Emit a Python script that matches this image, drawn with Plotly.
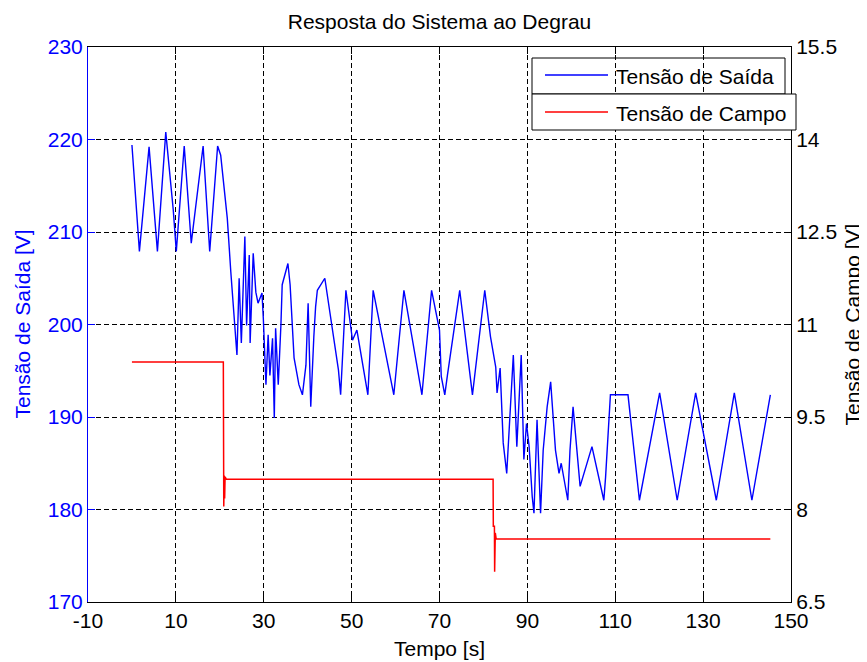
import plotly.graph_objects as go

# ---- data ----
tempo_saida = [0.0, 1.7, 3.9, 5.8, 7.7, 9.4, 10.1, 11.9, 13.5, 16.2, 17.7, 19.5, 20.2, 21.0, 21.7,
               22.5, 23.3, 23.9, 24.4, 24.9, 25.7, 26.1, 26.7, 26.9, 27.6, 28.2, 28.7, 29.6, 29.9,
               30.5, 31.0, 31.4, 32.0, 32.4, 32.7, 33.3, 33.9, 34.2, 35.5, 36.0, 36.9, 38.0, 38.8,
               39.6, 40.1, 40.7, 41.4, 41.8, 42.2, 43.9, 47.0, 47.5, 48.7, 50.2, 51.2, 53.7, 54.9,
               59.6, 61.9, 66.0, 68.2, 70.0, 70.4, 71.2, 71.8, 74.6, 77.5, 80.3, 81.6, 82.8, 83.1,
               83.8, 84.5, 85.3, 86.8, 87.6, 88.6, 89.2, 89.8, 90.4, 91.1, 91.5, 92.2, 93.0, 93.6,
               94.5, 95.3, 96.4, 97.2, 97.7, 99.2, 99.7, 100.4, 101.0, 102.0, 104.7, 107.4, 107.8,
               108.9, 112.9, 115.5, 120.1, 124.1, 128.3, 133.0, 137.1, 141.1, 145.3]
tensao_saida = [219.4, 207.9, 219.2, 207.9, 220.8, 212.4, 207.9, 219.3, 208.8, 219.3, 207.9, 219.3,
                218.3, 214.4, 211.5, 205.7, 199.9, 196.7, 205.0, 198.0, 209.5, 199.9, 207.5, 198.0,
                207.7, 203.5, 202.3, 203.4, 200.7, 193.5, 198.9, 194.5, 198.5, 189.9, 199.6, 193.5,
                199.9, 204.3, 206.6, 204.3, 196.4, 193.5, 192.4, 195.6, 202.3, 191.1, 198.7, 201.9,
                203.7, 205.0, 195.1, 192.4, 203.7, 198.3, 199.4, 192.4, 203.7, 192.4, 203.7, 192.4,
                203.7, 199.4, 194.4, 192.4, 194.5, 203.7, 192.4, 203.7, 198.7, 195.4, 192.6, 195.3,
                187.2, 183.9, 196.7, 186.8, 196.7, 185.4, 189.3, 186.8, 181.4, 179.6, 189.7, 179.6,
                186.4, 191.1, 193.8, 186.4, 183.9, 185.0, 181.0, 186.4, 191.1, 187.9, 182.5, 186.8,
                181.0, 183.5, 192.4, 192.4, 181.0, 192.6, 181.0, 192.6, 181.0, 192.6, 181.0, 192.4]

tempo_campo = [0.0, 20.8, 20.9, 21.0, 21.1, 21.2, 21.5, 82.2, 82.25, 82.5, 82.55, 82.7, 82.9, 145.3]
tensao_campo = [10.39, 10.39, 8.05, 8.55, 8.18, 8.53, 8.49, 8.49, 7.73, 7.73, 6.99, 7.62, 7.52, 7.52]

x_ticks = [-10, 10, 30, 50, 70, 90, 110, 130, 150]
x_labels = ["-10", "10", "30", "50", "70", "90", "110", "130", "150"]
y1_ticks = [170, 180, 190, 200, 210, 220, 230]
y2_ticks = [6.5, 8, 9.5, 11, 12.5, 14, 15.5]
y2_labels = ["6.5", "8", "9.5", "11", "12.5", "14", "15.5"]

FONT = "Liberation Sans, Arial, sans-serif"
FS = 21
BLUE = "#0000ff"
RED = "#ff0000"

# page body has an 8px margin: shrink the figure so it fits the 867x662 window
OFF = 8
W, H = 867 - OFF, 662 - OFF
L, R, T, B = 88 - OFF, 76, 47 - OFF, 60

fig = go.Figure()
fig.add_trace(go.Scatter(x=tempo_saida, y=tensao_saida, mode="lines",
                         line=dict(color=BLUE, width=1.4), name="Tensão de Saída",
                         showlegend=False))
fig.add_trace(go.Scatter(x=tempo_campo, y=tensao_campo, mode="lines", yaxis="y2",
                         line=dict(color=RED, width=1.5), name="Tensão de Campo",
                         showlegend=False))

grid = dict(showgrid=True, gridcolor="#000000", gridwidth=1, griddash="5px,3px")

fig.update_layout(
    width=W, height=H,
    margin=dict(l=L, r=R, t=T, b=B),
    paper_bgcolor="white", plot_bgcolor="white",
    font=dict(family=FONT, size=FS, color="black"),
    title=dict(text="Resposta do Sistema ao Degrau", x=0.5, xref="paper", xanchor="center",
               y=1 - (22 - OFF) / H, yanchor="middle", font=dict(size=FS, color="black")),
    xaxis=dict(range=[-10, 150], tickvals=x_ticks, ticktext=x_labels, ticks="inside", ticklen=7,
               tickcolor="black", showline=True, linecolor="black", linewidth=1,
               mirror="ticks", zeroline=False, tickfont=dict(size=FS, color="black"), **grid),
    yaxis=dict(range=[170, 230], tickvals=y1_ticks, ticks="inside", ticklen=7,
               tickcolor=BLUE, showline=True, linecolor=BLUE, linewidth=1,
               zeroline=False, tickfont=dict(size=FS, color=BLUE), **grid),
    yaxis2=dict(range=[6.5, 15.5], tickvals=y2_ticks, ticktext=y2_labels, overlaying="y",
                side="right", ticks="inside", ticklen=7, tickcolor="black",
                showline=True, linecolor="black", linewidth=1, showgrid=False,
                zeroline=False, tickfont=dict(size=FS, color="black")),
)

# helpers: reference-window pixels -> paper coords
PW = 791 - 88
PH = 602 - 47

def px(xp):
    return (xp - 88) / PW

def py(yp):
    return (602 - yp) / PH

# axis titles
fig.add_annotation(text="Tempo [s]", xref="paper", yref="paper", x=0.5, y=py(648),
                   showarrow=False, xanchor="center", yanchor="middle",
                   font=dict(size=FS, color="black"))
fig.add_annotation(text="Tensão de Saída [V]", xref="paper", yref="paper",
                   x=px(22), y=0.5, textangle=-90, showarrow=False,
                   xanchor="center", yanchor="middle", font=dict(size=FS, color=BLUE))
fig.add_annotation(text="Tensão de Campo [V]", xref="paper", yref="paper",
                   x=px(852), y=0.5, textangle=-90, showarrow=False,
                   xanchor="center", yanchor="middle", font=dict(size=FS, color="black"))

# legend boxes (MATLAB plotyy style: two stacked boxes)
fig.add_shape(type="rect", xref="paper", yref="paper", x0=px(532), x1=px(785), y0=py(94), y1=py(58),
              line=dict(color="black", width=1), fillcolor="rgba(0,0,0,0)", layer="above")
fig.add_shape(type="rect", xref="paper", yref="paper", x0=px(532), x1=px(796), y0=py(130), y1=py(94),
              line=dict(color="black", width=1), fillcolor="white", layer="above")
fig.add_shape(type="line", xref="paper", yref="paper", x0=px(545), x1=px(608), y0=py(75), y1=py(75),
              line=dict(color=BLUE, width=1.3), layer="above")
fig.add_shape(type="line", xref="paper", yref="paper", x0=px(545), x1=px(608), y0=py(112), y1=py(112),
              line=dict(color=RED, width=1.5), layer="above")
fig.add_annotation(text=fig.data[0].name, xref="paper", yref="paper", x=px(614), y=py(76),
                   showarrow=False, xanchor="left", yanchor="middle",
                   font=dict(size=FS, color="black"))
fig.add_annotation(text=fig.data[1].name, xref="paper", yref="paper", x=px(614), y=py(113),
                   showarrow=False, xanchor="left", yanchor="middle",
                   font=dict(size=FS, color="black"))

fig.write_html("out.html")
